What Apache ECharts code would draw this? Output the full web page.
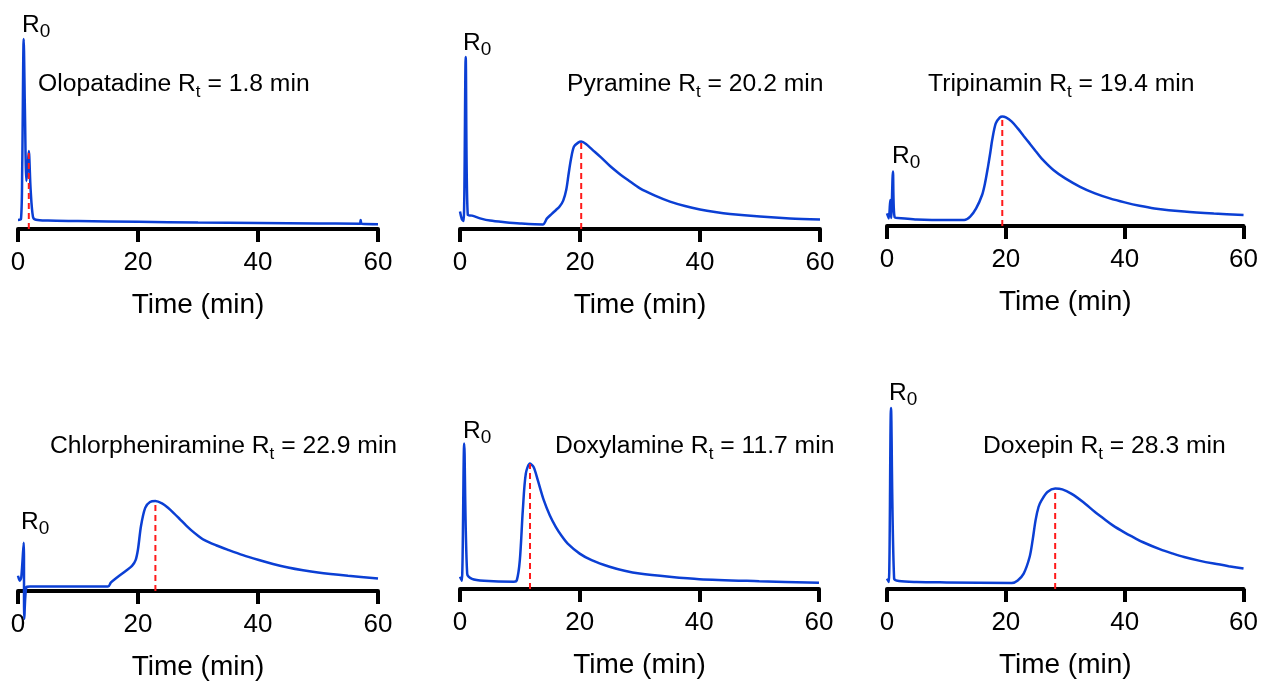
<!DOCTYPE html>
<html>
<head>
<meta charset="utf-8">
<script src="https://cdn.jsdelivr.net/npm/echarts@6/dist/echarts.min.js"></script>
<style>
html,body{margin:0;padding:0;background:#fff;}
#c{width:1261px;height:682px;}
</style>
</head>
<body>
<div id="c"></div>
<script>
// ---- data (time in min, signal in arbitrary units) ----
const xTicks = [0, 20, 40, 60];
const compounds = ['Olopatadine', 'Pyramine', 'Tripinamin', 'Chlorpheniramine', 'Doxylamine', 'Doxepin'];
const retentionTimes = [1.8, 20.2, 19.4, 22.9, 11.7, 28.3];
const peakHeights = [38, 43.5, 54.5, 45, 62.5, 50];

const olopatadine = [[0,4.5],[0.5,5],[0.7,30],[0.95,95],[1.15,60],[1.4,24],[1.6,30],[1.8,39],[2.1,20],[2.5,6],[3,4.6],[5,4.2],[10,4],[20,3.6],[30,3.2],[40,3],[50,2.8],[57,2.6],[57.1,4.5],[57.3,2.6],[60,2.4]];
const pyramine = [[0,8.7],[0.3,5],[0.6,4],[0.95,86],[1.3,7],[2,6.7],[3.5,5.2],[5,4.2],[7.5,3.4],[10,2.8],[13.8,2.3],[14.5,5.3],[15.3,7.6],[16,9.5],[16.6,11.2],[17.2,14.2],[17.7,19.5],[18.1,27.5],[18.5,35],[19,41.2],[19.7,43.2],[20.2,43.7],[21,42.5],[22,39.8],[23.5,35.8],[25,31.5],[26.5,27.8],[28,24.5],[30,20.3],[32.5,16.7],[35,13.7],[37.5,11.5],[40,9.8],[42.5,8.5],[45,7.5],[50,6.2],[55,5.3],[60,4.8]];
const tripinamin = [[0,6.3],[0.3,3.8],[0.55,13],[0.7,4],[1.0,27.2],[1.3,4.3],[3,3.8],[5,3.3],[10,3],[13,3],[14,4.7],[15,8.8],[16,15.5],[16.5,21.5],[17,29.7],[17.4,37],[17.7,43],[18.3,51.3],[19,54.3],[19.4,54.7],[20,54.3],[21,52.2],[22,48.8],[23,45],[24,41.3],[25,37.5],[26,33.8],[28,28],[30,23.8],[32.5,19.6],[35,16.3],[37.5,13.8],[40,11.8],[42.5,10.1],[45,8.8],[50,7.2],[55,6.2],[60,5.5]];
const chlorpheniramine = [[0,7.7],[0.3,5.2],[0.55,7],[0.95,24.3],[1.05,-14],[1.4,1.9],[2,2.2],[8,2.2],[15,2.2],[15.5,4.3],[16.5,6.8],[18,10.2],[19,12.6],[19.6,15.5],[20,21],[20.5,32.7],[21.2,41.8],[22,44.7],[22.9,45.2],[24,44],[25,41.8],[26,39],[27,36],[28,33],[29,30.2],[30,27.8],[31,25.7],[33,23],[35,20.7],[37.5,18],[40,15.7],[42.5,13.6],[45,11.8],[47.5,10.4],[50,9.3],[55,7.7],[60,6.3]];
const doxylamine = [[0,6.1],[0.3,4.1],[0.7,72.7],[1.2,7.7],[2,5.1],[4,4.1],[9,3.6],[9.5,4.4],[10,14.4],[10.5,39.4],[11,57.7],[11.7,62.7],[12.3,61],[13,54.4],[14,44.4],[15,36.9],[16,31.1],[17,26.5],[18,22.7],[20,17.7],[22,14.4],[25,11.1],[27.5,9.1],[30,7.7],[35,6.1],[40,4.9],[50,3.9],[60,3.1]];
const doxepin = [[0,5.2],[0.3,3.5],[0.67,90.5],[1.2,5.2],[2,4],[5,3.5],[10,3.3],[21,3],[22,4.3],[23,7.7],[24,16],[24.5,24.3],[25,34.3],[25.5,41],[26,44.3],[27,48.5],[28.3,50.2],[29.5,49.8],[31,47.7],[33,43.5],[35,38.5],[36.5,35.1],[38,31.8],[40,28.2],[41.5,25.8],[43,23.5],[46,19.8],[48,17.8],[50,16],[52.5,14.2],[55,12.7],[57.5,11.4],[60,10.2]];
const traces = [olopatadine, pyramine, tripinamin, chlorpheniramine, doxylamine, doxepin];

// ---- layout ----
const grids = [
  {left: 18, top: 29, width: 360, height: 200},
  {left: 460, top: 29, width: 360, height: 200},
  {left: 887, top: 26, width: 359, height: 200},
  {left: 18, top: 392, width: 360, height: 200},
  {left: 460, top: 389, width: 359, height: 200},
  {left: 887, top: 389, width: 359, height: 200}
];
const annoPos = [[38, 67], [567, 67], [928, 67], [50, 429], [555, 429], [983, 429]];
const r0Pos = [[22, 9], [463, 27], [892, 140], [21, 506], [463, 415], [889, 377]];

const FONT = 'Liberation Sans, Arial, Helvetica, sans-serif';
const BLUE = '#0b3fd4';
const richStyles = {
  n: {fontSize: 24.7, lineHeight: 34, color: '#000', fontFamily: FONT, fontWeight: 'normal'},
  s: {fontSize: 17, lineHeight: 17, color: '#000', fontFamily: FONT, fontWeight: 'normal', verticalAlign: 'bottom'},
  r: {fontSize: 24.5, lineHeight: 32, color: '#000', fontFamily: FONT, fontWeight: 'normal'},
  z: {fontSize: 19, lineHeight: 19, color: '#000', fontFamily: FONT, fontWeight: 'normal', verticalAlign: 'bottom'}
};

const titles = [];
compounds.forEach((name, i) => {
  titles.push({
    left: annoPos[i][0], top: annoPos[i][1], padding: 0,
    text: '{n|' + name + ' R}{s|t}{n| = ' + retentionTimes[i].toFixed(1) + ' min}',
    textStyle: {fontWeight: 'normal', rich: richStyles}
  });
  titles.push({
    left: r0Pos[i][0], top: r0Pos[i][1], padding: 0,
    text: '{r|R}{z|0}',
    textStyle: {fontWeight: 'normal', rich: richStyles}
  });
});

const xAxes = grids.map((g, i) => ({
  gridIndex: i, type: 'value', min: 0, max: 60, interval: 20,
  axisLine: {onZero: false, lineStyle: {color: '#000', width: 4}},
  axisTick: {show: true, length: 13, lineStyle: {color: '#000', width: 4}},
  axisLabel: {fontSize: 26, color: '#000', margin: 21, fontFamily: FONT},
  splitLine: {show: false},
  name: 'Time (min)', nameLocation: 'middle', nameGap: 62,
  nameTextStyle: {fontSize: 28, color: '#000', fontFamily: FONT}
}));
const yAxes = grids.map((g, i) => ({
  gridIndex: i, type: 'value', min: 0, max: 100, show: false
}));

const series = [];
traces.forEach((d, i) => {
  series.push({
    type: 'line', xAxisIndex: i, yAxisIndex: i, data: d,
    showSymbol: false, smooth: 0.3, clip: false,
    lineStyle: {color: BLUE, width: 2.5}, z: 2
  });
  series.push({
    type: 'line', xAxisIndex: i, yAxisIndex: i,
    data: [[retentionTimes[i], 0], [retentionTimes[i], peakHeights[i]]],
    showSymbol: false,
    lineStyle: {color: '#ff1a1a', width: 2, type: [6, 4]}, z: 3
  });
});

const chart = echarts.init(document.getElementById('c'), null, {renderer: 'canvas'});
chart.setOption({
  animation: false,
  backgroundColor: '#fff',
  title: titles,
  grid: grids,
  xAxis: xAxes,
  yAxis: yAxes,
  series: series
});
</script>
</body>
</html>
